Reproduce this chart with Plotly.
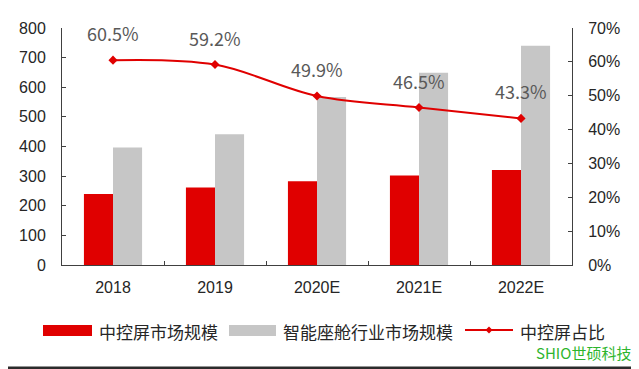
import plotly.graph_objects as go

categories = ["2018", "2019", "2020E", "2021E", "2022E"]
screen_market = [240, 262, 283, 302, 321]          # 中控屏市场规模
cockpit_market = [397, 441, 567, 649, 740]         # 智能座舱行业市场规模
screen_share = [60.5, 59.2, 49.9, 46.5, 43.3]      # 中控屏占比 (%)
left_ticks = list(range(0, 801, 100))
right_ticks = [0, 10, 20, 30, 40, 50, 60, 70]

RED = "#E00000"
GRAY = "#C6C6C6"
AXIS = "#404040"
TXT = "#262626"

OFF = 8  # page body margin offset
W, H = 639 - OFF, 369 - OFF
ML, MT = 62 - OFF, 28 - OFF
MR = W - (572 - OFF)
MB = H - (265 - OFF)
PW, PH = W - ML - MR, H - MT - MB


def px(x):
    return (x - OFF - ML) / PW


def py(y):
    return (H - MB - (y - OFF)) / PH


fig = go.Figure()
fig.add_trace(go.Bar(x=categories, y=screen_market, name="中控屏市场规模",
                     marker=dict(color=RED, line=dict(width=0))))
fig.add_trace(go.Bar(x=categories, y=cockpit_market, name="智能座舱行业市场规模",
                     marker=dict(color=GRAY, line=dict(width=0))))
fig.add_trace(go.Scatter(x=categories, y=[v / 100 for v in screen_share], name="中控屏占比",
                         yaxis="y2", mode="lines+markers",
                         line=dict(color=RED, width=2, shape="spline", smoothing=1),
                         marker=dict(color=RED, size=7, symbol="diamond")))

annotations = []
for i, v in enumerate(screen_share):
    annotations.append(dict(x=i, y=v / 100, yref="y2", xref="x", text=f"{v:.1f}%",
                            showarrow=False, yshift=27,
                            font=dict(family="Noto Sans CJK SC", size=18, color="#595959")))

# manual legend
shapes = []
legend_y0, legend_y1, legend_yc = 325, 336, 331
shapes.append(dict(type="rect", xref="paper", yref="paper", x0=px(43), x1=px(92),
                   y0=py(legend_y1), y1=py(legend_y0), fillcolor=RED, line=dict(width=0)))
shapes.append(dict(type="rect", xref="paper", yref="paper", x0=px(229), x1=px(276),
                   y0=py(legend_y1), y1=py(legend_y0), fillcolor=GRAY, line=dict(width=0)))
shapes.append(dict(type="line", xref="paper", yref="paper", x0=px(465), x1=px(513),
                   y0=py(330), y1=py(330), line=dict(color=RED, width=2)))
shapes.append(dict(type="path", xref="paper", yref="paper",
                   path=f"M {px(489)},{py(326.5)} L {px(492.5)},{py(330)} L {px(489)},{py(333.5)} L {px(485.5)},{py(330)} Z",
                   fillcolor=RED, line=dict(width=0)))
# bottom border line
shapes.append(dict(type="rect", xref="paper", yref="paper", x0=px(OFF), x1=px(639),
                   y0=py(369), y1=py(366.5), fillcolor="#2b2b2b", line=dict(width=0)))

for text, x in [("中控屏市场规模", 97), ("智能座舱行业市场规模", 281), ("中控屏占比", 518)]:
    annotations.append(dict(x=px(x), y=py(legend_yc), xref="paper", yref="paper", text=text,
                            showarrow=False, xanchor="left", yanchor="middle",
                            font=dict(family="Noto Sans CJK SC", size=17, color=TXT)))

annotations.append(dict(x=px(633), y=py(352), xref="paper", yref="paper", text="SHIO世硕科技",
                        showarrow=False, xanchor="right", yanchor="middle",
                        font=dict(family="Noto Sans CJK SC", size=15, color="#2DB52D")))

fig.update_layout(
    width=W, height=H,
    margin=dict(l=ML, r=MR, t=MT, b=MB, pad=0),
    paper_bgcolor="white", plot_bgcolor="white",
    barmode="group", bargap=0.43, bargroupgap=0,
    showlegend=False,
    font=dict(family="Liberation Sans", size=16, color=TXT),
    xaxis=dict(type="category", range=[-0.5, 4.5], showline=True, linecolor=AXIS, linewidth=1,
               ticks="inside", tickson="boundaries", ticklen=4, tickcolor=AXIS,
               showgrid=False, ticklabelstandoff=8, tickfont=dict(size=16, color=TXT)),
    yaxis=dict(range=[0, 800], tickvals=left_ticks, showline=True, linecolor=AXIS, linewidth=1,
               ticks="inside", ticklen=4, tickcolor=AXIS, showgrid=False, zeroline=False,
               ticklabelstandoff=12, tickfont=dict(size=16, color=TXT)),
    yaxis2=dict(range=[0, 0.7], tickvals=[v / 100 for v in right_ticks],
                ticktext=[f"{v}%" for v in right_ticks], overlaying="y", side="right",
                showline=True, linecolor=AXIS, linewidth=1, ticks="inside", ticklen=4,
                tickcolor=AXIS, showgrid=False, zeroline=False, ticklabelstandoff=12,
                tickfont=dict(size=16, color=TXT)),
    shapes=shapes,
    annotations=annotations,
)

fig.write_html("out.html")
